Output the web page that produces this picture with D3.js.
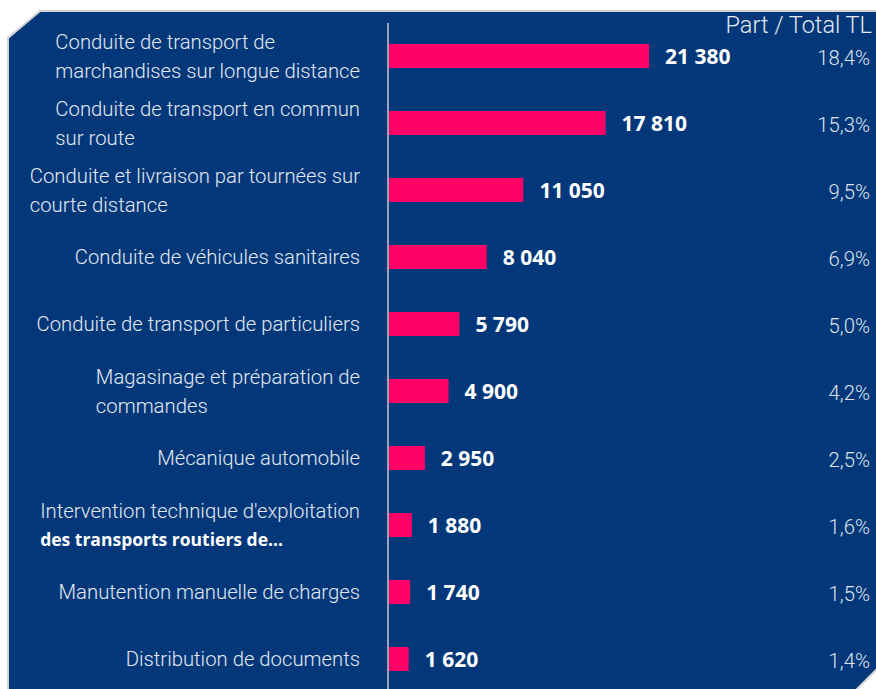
<!DOCTYPE html>
<html>
<head>
<meta charset="utf-8">
<script src="https://cdn.jsdelivr.net/npm/d3@7"></script>
<style>
  html, body { margin: 0; padding: 0; background: #fff; }
  svg { display: block; }
</style>
</head>
<body>
<div id="chart"></div>
<script>
const categories = [
  ['Conduite de transport de', 'marchandises sur longue distance'],
  ['Conduite de transport en commun', 'sur route'],
  ['Conduite et livraison par tournées sur', 'courte distance'],
  ['Conduite de véhicules sanitaires'],
  ['Conduite de transport de particuliers'],
  ['Magasinage et préparation de', 'commandes'],
  ['Mécanique automobile'],
  ["Intervention technique d'exploitation", 'des transports routiers de...'],
  ['Manutention manuelle de charges'],
  ['Distribution de documents']
];
const boldLines = ['des transports routiers de...'];
const values = [21380, 17810, 11050, 8040, 5790, 4900, 2950, 1880, 1740, 1620];
const shares = [18.4, 15.3, 9.5, 6.9, 5.0, 4.2, 2.5, 1.6, 1.5, 1.4];
const shareTitle = 'Part / Total TL';

const width = 876;
const height = 689;

const fr = d3.formatLocale({ decimal: ',', thousands: ' ', grouping: [3], currency: ['', ' €'] });
const fmtValue = fr.format(',d');
const fmtShare = d => fr.format('.1f')(d) + '%';

const svg = d3.select('#chart')
  .append('svg')
    .attr('width', width)
    .attr('height', height);

// panel with cut corners
svg.append('polygon')
  .attr('points', [[40, 11], [880, 11], [880, 666], [846, 700], [8, 700], [8, 38]].join(' '))
  .attr('fill', '#02387a')
  .attr('stroke', '#d3d3d3')
  .attr('stroke-width', 2);

const x = d3.scaleLinear()
  .domain([0, d3.max(values)])
  .range([389, 649]);

const y = d3.scalePoint()
  .domain(d3.range(values.length))
  .range([56, 659]);

const barH = 24;

// axis line
svg.append('line')
  .attr('x1', 388).attr('x2', 388)
  .attr('y1', 23).attr('y2', height)
  .attr('stroke', '#c6cad2')
  .attr('stroke-width', 1.5);

svg.append('g')
  .selectAll('rect')
  .data(values)
  .join('rect')
    .attr('x', x(0))
    .attr('y', (d, i) => y(i) - barH / 2)
    .attr('width', d => x(d) - x(0))
    .attr('height', barH)
    .attr('fill', '#ff0066');

svg.append('g')
  .selectAll('text')
  .data(values)
  .join('text')
    .attr('x', d => x(d) + 16)
    .attr('y', (d, i) => y(i))
    .attr('dy', '0.36em')
    .attr('fill', '#fff')
    .style('font-family', '"Open Sans", sans-serif')
    .style('font-weight', 700)
    .style('font-size', '21px')
    .text(fmtValue);

// category labels: block right-aligned at 360, lines left-aligned
const lineH = 29.5;
const labels = svg.append('g')
  .selectAll('text')
  .data(categories)
  .join('text')
    .attr('fill', '#e4e9f1')
    .style('font-family', 'Roboto, sans-serif')
    .style('font-weight', 300)
    .style('font-size', '20.3px');

labels.each(function(lines, i) {
  const t = d3.select(this);
  const y0 = y(i) - (lines.length - 1) * lineH / 2;
  lines.forEach((line, j) => {
    const bold = boldLines.includes(line);
    t.append('tspan')
      .attr('y', y0 + j * lineH)
      .attr('dy', '0.36em')
      .style('font-family', bold ? '"Open Sans", sans-serif' : null)
      .style('font-weight', bold ? 700 : null)
      .style('font-size', bold ? '17.5px' : null)
      .attr('fill', bold ? '#fff' : null)
      .text(line);
  });
  const spans = t.selectAll('tspan').nodes();
  const w = d3.max(spans, n => n.getComputedTextLength());
  t.selectAll('tspan').attr('x', 360 - w);
});

svg.append('text')
  .attr('x', 872)
  .attr('y', 33)
  .attr('text-anchor', 'end')
  .attr('fill', '#e4e9f1')
  .style('font-family', 'Roboto, sans-serif')
  .style('font-weight', 300)
  .style('font-size', '23.5px')
  .text(shareTitle);

svg.append('g')
  .selectAll('text')
  .data(shares)
  .join('text')
    .attr('x', 870)
    .attr('y', (d, i) => y(i) + 2)
    .attr('dy', '0.36em')
    .attr('text-anchor', 'end')
    .attr('fill', '#dfe4ec')
    .style('font-family', 'Roboto, sans-serif')
    .style('font-weight', 300)
    .style('font-size', '20.3px')
    .text(fmtShare);
</script>
</body>
</html>
